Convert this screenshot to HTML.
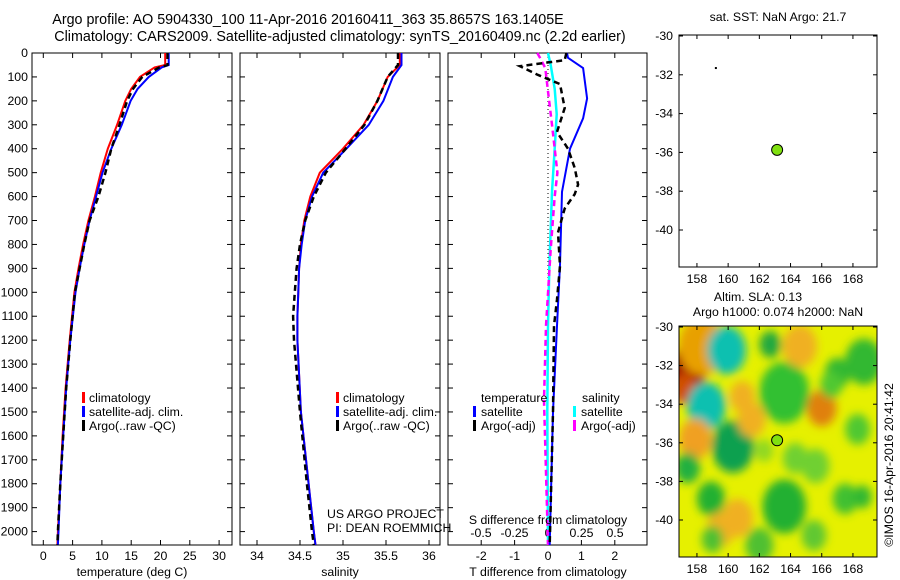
<!DOCTYPE html>
<html><head><meta charset="utf-8"><style>
body{margin:0;background:#fff}
svg{display:block;font-family:"Liberation Sans",sans-serif}
text{font-size:12.3px;fill:#000}
</style></head><body>
<svg id="c" width="900" height="580" viewBox="0 0 900 580">
<defs>
<filter id="blur" x="-50%" y="-50%" width="200%" height="200%"><feGaussianBlur stdDeviation="4.5"/></filter>
<clipPath id="mapclip"><rect x="679" y="326" width="198" height="231"/></clipPath>
</defs>
<text x="308" y="24" text-anchor="middle" style="font-size:14.3px">Argo profile: AO 5904330_100 11-Apr-2016 20160411_363 35.8657S 163.1405E</text>
<text x="340" y="41" text-anchor="middle" style="font-size:14.3px">Climatology: CARS2009. Satellite-adjusted climatology: synTS_20160409.nc (2.2d earlier)</text>
<g id="g"></g>
</svg>
<script>
const depthsT = [0,50,60,100,150,200,300,400,500,600,700,800,900,1000,1200,1400,1600,1800,2000,2056];
const tempClim = [20.8,20.8,19,16.5,15,14,12.6,11,9.8,8.8,7.7,6.8,6.0,5.3,4.5,3.8,3.3,2.9,2.5,2.4];
const tempSat  = [21.4,21.4,20.2,18,16.1,14.9,13.4,11.6,10.1,9.0,7.9,7.0,6.2,5.5,4.6,3.9,3.4,2.9,2.6,2.5];
const tempArgo = [21.2,21.2,19.8,16.9,15.3,14.3,13,11.6,10.6,9.4,7.9,7.0,6.2,5.4,4.6,3.9,3.4,2.9,2.5,2.4];
const depthsS = [0,50,100,200,300,400,500,600,700,800,900,1000,1100,1200,1500,1800,2000,2056];
const salClim = [35.66,35.66,35.52,35.4,35.24,35.0,34.73,34.62,34.55,34.51,34.49,34.48,34.47,34.47,34.51,34.6,34.66,34.68];
const salSat  = [35.68,35.68,35.58,35.47,35.3,35.04,34.77,34.64,34.56,34.52,34.49,34.48,34.47,34.47,34.51,34.6,34.66,34.68];
const salArgo = [35.64,35.64,35.52,35.4,35.25,35.03,34.8,34.66,34.56,34.5,34.46,34.44,34.42,34.43,34.5,34.58,34.64,34.66];
const dSatTDepth = [0,20,63,190,273,400,580,886,1140,1500,2056];
const dSatT = [0.57,0.6,1.05,1.17,1.05,0.66,0.42,0.36,0.27,0.15,0.05];
const dArgoTDepth = [0,30,55,90,130,230,330,400,480,550,590,650,750,890,1030,1140,1500,2056];
const dArgoT = [0.55,0.5,-0.84,-0.33,0.36,0.5,0.27,0.6,0.8,0.9,0.8,0.5,0.3,0.36,0.27,0.18,0.15,0.05];
const dSatSDepth = [0,50,150,256,400,580,900,1140,1500,2056];
const dSatS = [0,0.02,0.05,0.065,0.05,0.03,0.01,0,-0.005,0];
const dArgoSDepth = [0,20,63,160,300,500,600,820,1140,1450,2056];
const dArgoS = [-0.08,-0.06,-0.02,0,0.03,0.07,0.05,0.02,-0.015,-0.03,0];
const depthTicks = [0,100,200,300,400,500,600,700,800,900,1000,1100,1200,1300,1400,1500,1600,1700,1800,1900,2000];
const tempTicks = [0,5,10,15,20,25,30];
const salTicks = [34,34.5,35,35.5,36];
const tdTicks = [-2,-1,0,1,2];
const sdTicks = [-0.5,-0.25,0,0.25,0.5];
const latTicks = [-30,-32,-34,-36,-38,-40];
const lonTicks = [158,160,162,164,166,168];
const argoPos = [163.14,-35.87];
// SLA blobs: lon, lat, radius(deg), color
const blobLon = [157.4,157.2,158.3,159.9,158.6,160.3,162.7,163.6,166.0,157.9,168.7,163.6,158.9,160.6,168.3,157.4,165.6,159.5,164.3,167.5,164.6,167.0,166.6,161.5,160.9,165.5,168.6,162.0,159.0,162.3];
const blobLat = [-32.2,-33.2,-31.0,-31.2,-34.1,-36.2,-30.9,-33.4,-34.2,-35.8,-31.8,-39.3,-38.9,-39.9,-35.3,-37.3,-37.2,-40.5,-36.8,-38.9,-31.0,-32.4,-33.0,-34.8,-33.6,-40.8,-38.8,-41.3,-41.0,-36.4];
const blobR   = [1.2,0.8,1.5,1.25,1.25,1.35,0.7,1.6,0.95,1.05,1.2,1.4,0.9,1.0,0.8,0.8,0.9,0.9,0.8,0.8,1.1,0.8,0.7,0.9,0.8,0.8,0.6,0.9,0.7,0.6];
const blobC   = ['#a00000','#d05000','#e8a000','#10c0b0','#10c0b0','#10a050','#20a840','#30c030','#e08010','#f0a020','#30b830','#20b030','#20b030','#f0b020','#50c830','#20b040','#70d030','#f0b020','#70d030','#40c030','#f0b020','#30b830','#50c830','#f0b020','#f0b020','#60c830','#30b830','#50c030','#50c030','#90d820'];

const g = document.getElementById('g');
const NS = 'http://www.w3.org/2000/svg';
function el(t, a, txt){const e=document.createElementNS(NS,t);for(const k in a)e.setAttribute(k,a[k]);if(txt!==undefined)e.textContent=txt;g.appendChild(e);return e;}
const y0=53, ys=0.2393;
const Y = d => y0 + d*ys;
const xT = v => 43.3 + v*5.86;
const xS = v => 257 + (v-34)*86;
const xTD = v => 548 + v*33.4;
const xSD = v => 548 + v*134;

function panel(x1,x2,name){
  const r = el('rect',{x:x1,y:y0,width:x2-x1,height:545-y0,fill:'none',stroke:'#000','stroke-width':1});
  
  
  depthTicks.forEach(d=>{
    const t1=el('line',{x1:x1,x2:x1+5,y1:Y(d),y2:Y(d),stroke:'#000'});
    
    
    const t2=el('line',{x1:x2-5,x2:x2,y1:Y(d),y2:Y(d),stroke:'#000'});
    
    
  });
}
function line(xs, ds, fx, color, dash, w, name){
  const pts = xs.map((v,i)=>fx(v).toFixed(1)+','+Y(ds[i]).toFixed(1)).join(' ');
  const p = el('polyline',{points:pts,fill:'none',stroke:color,'stroke-width':w||2,'stroke-dasharray':dash||'none'});
  
  
}
function xticks(ticks, fx, ylab, ytop, ybot, name){
  ticks.forEach(v=>{
    const l=el('line',{x1:fx(v),x2:fx(v),y1:ybot,y2:ybot-5,stroke:'#000'});
    
    
    if(ytop!==null){
      const l2=el('line',{x1:fx(v),x2:fx(v),y1:ytop,y2:ytop+5,stroke:'#000'});
      
      
    }
    const t=el('text',{x:fx(v),y:ylab,'text-anchor':'middle'},String(v));
    
    
  });
}
panel(32,232,'temperature-panel');
depthTicks.forEach(d=>{
  const t=el('text',{x:28,y:Y(d)+4,'text-anchor':'end'},String(d));
  
  
});
xticks(tempTicks,xT,560,y0,545,'temperature-axis');
line(tempClim,depthsT,xT,'#f00',null,2,'temperature-climatology-line');
line(tempSat,depthsT,xT,'#00f',null,2,'temperature-satellite-line');
line(tempArgo,depthsT,xT,'#000','6,4',2.5,'temperature-argo-line');
let t;
t=el('text',{x:132,y:576,'text-anchor':'middle'},'temperature (deg C)');

panel(240,440,'salinity-panel');
xticks(salTicks,xS,560,y0,545,'salinity-axis');
line(salClim,depthsS,xS,'#f00',null,2,'salinity-climatology-line');
line(salSat,depthsS,xS,'#00f',null,2,'salinity-satellite-line');
line(salArgo,depthsS,xS,'#000','6,4',2.5,'salinity-argo-line');
t=el('text',{x:340,y:576,'text-anchor':'middle'},'salinity');

t=el('text',{x:327,y:518},'US ARGO PROJECT');

t=el('text',{x:327,y:532},'PI: DEAN ROEMMICH');

function legend(x,items,prefix){
  items.forEach((it,i)=>{
    const yy=398+i*14;
    const b=el('rect',{x:x,y:yy-6,width:3,height:11,fill:it[1]});
    
    
    const tt=el('text',{x:x+7,y:yy+4},it[0]);
    
    
  });
}
const legItems=[['climatology','#f00'],['satellite-adj. clim.','#00f'],['Argo(..raw -QC)','#000']];
legend(82,legItems,'temperature');
legend(336,legItems,'salinity');
panel(448,647,'difference-panel');
const dot=el('line',{x1:548,x2:548,y1:y0,y2:545,stroke:'#000','stroke-dasharray':'1,3'});

xticks(tdTicks,xTD,560,y0,545,'t-difference-axis');
sdTicks.forEach(v=>{
  const tt=el('text',{x:xSD(v),y:537,'text-anchor':'middle'},String(v));
  
});
line(dSatS,dSatSDepth,xSD,'#0ff',null,2.5,'salinity-satellite-diff-line');
line(dArgoS,dArgoSDepth,xSD,'#f0f','6,4',2.5,'salinity-argo-diff-line');
line(dSatT,dSatTDepth,xTD,'#00f',null,2,'temperature-satellite-diff-line');
line(dArgoT,dArgoTDepth,xTD,'#000','6,4',2.5,'temperature-argo-diff-line');
t=el('text',{x:548,y:524,'text-anchor':'middle'},'S difference from climatology');

t=el('text',{x:548,y:576,'text-anchor':'middle'},'T difference from climatology');

t=el('text',{x:481,y:402},'temperature');

t=el('text',{x:582,y:402},'salinity');

[['satellite','#00f',473,412],['Argo(-adj)','#000',473,426],['satellite','#0ff',573,412],['Argo(-adj)','#f0f',573,426]].forEach(it=>{
  const b=el('rect',{x:it[2],y:it[3]-6,width:3,height:11,fill:it[1]});
  
  const tt=el('text',{x:it[2]+8,y:it[3]+4},it[0]);
  
});
const mx = lon => 679 + (lon-156.85)*15.6;
function mapAxes(top,bottom,latPx,name){
  const my = lat => top + 1 + (-30-lat)*latPx;
  const r=el('rect',{x:679,y:top,width:198,height:bottom-top,fill:'none',stroke:'#000'});
  
  latTicks.forEach(v=>{
    const a=el('line',{x1:679,x2:683,y1:my(v),y2:my(v),stroke:'#000'});
    
    const b=el('line',{x1:873,x2:877,y1:my(v),y2:my(v),stroke:'#000'});
    
    const tt=el('text',{x:673,y:my(v)+4,'text-anchor':'end'},String(v));
    
  });
  lonTicks.forEach(v=>{
    const a=el('line',{x1:mx(v),x2:mx(v),y1:top,y2:top+4,stroke:'#000'});
    
    const b=el('line',{x1:mx(v),x2:mx(v),y1:bottom-4,y2:bottom,stroke:'#000'});
    
    const tt=el('text',{x:mx(v),y:bottom+16,'text-anchor':'middle'},String(v));
    
  });
  const c=el('circle',{cx:mx(argoPos[0]),cy:my(argoPos[1]),r:5.5,fill:'#80e010',stroke:'#000'});
  
  return my;
}
t=el('text',{x:778,y:21,'text-anchor':'middle'},'sat. SST: NaN Argo: 21.7');

const my1 = lat => 36 + (-30-lat)*19.4;
t=el('rect',{x:mx(159.15),y:my1(-31.6),width:2,height:2,fill:'#000'});

mapAxes(35,267,19.4,'sst-map');
const my2 = lat => 327 + (-30-lat)*19.3;
const bg=el('rect',{x:679,y:326,width:198,height:231,fill:'#e6f000'});

const grp=document.createElementNS(NS,'g');grp.setAttribute('clip-path','url(#mapclip)');g.appendChild(grp);
const gb=document.createElementNS(NS,'g');gb.setAttribute('filter','url(#blur)');grp.appendChild(gb);
blobLon.forEach((lon,i)=>{
  const c=document.createElementNS(NS,'ellipse');
  c.setAttribute('cx',mx(lon));c.setAttribute('cy',my2(blobLat[i]));
  c.setAttribute('rx',blobR[i]*15.6);c.setAttribute('ry',blobR[i]*19.3);
  c.setAttribute('fill',blobC[i]);
  
  
  gb.appendChild(c);
});
mapAxes(326,557,19.3,'sla-map');
t=el('text',{x:758,y:301,'text-anchor':'middle'},'Altim. SLA: 0.13');

t=el('text',{x:778,y:316,'text-anchor':'middle'},'Argo h1000: 0.074 h2000: NaN');

t=el('text',{x:0,y:0,'text-anchor':'middle',transform:'translate(893,465) rotate(-90)'},'©IMOS 16-Apr-2016 20:41:42');

</script>
</body></html>
